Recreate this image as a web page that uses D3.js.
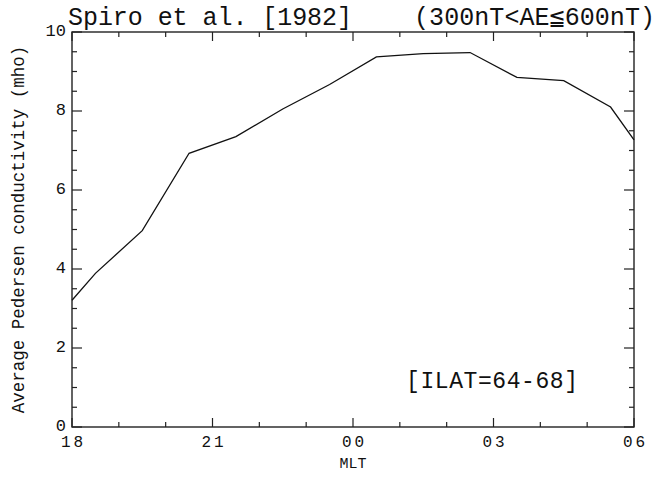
<!DOCTYPE html>
<html>
<head>
<meta charset="utf-8">
<script src="https://cdn.jsdelivr.net/npm/d3@7"></script>
<style>
  body { margin: 0; background: #fff; }
  text { font-family: "Liberation Mono", "DejaVu Sans Mono", monospace; fill: #111; }
</style>
</head>
<body>
<svg id="canvas" width="660" height="477"></svg>
<script>
// MLT in hours, 24+ means past midnight
let mlt = [18.0, 18.5, 19.5, 20.5, 21.5, 22.5, 23.5, 24.5, 25.5, 26.5, 27.5, 28.5, 29.5, 30.0]
let sigmaP = [3.21, 3.89, 4.97, 6.93, 7.35, 8.05, 8.67, 9.37, 9.45, 9.48, 8.85, 8.77, 8.1, 7.27]

let xTicks = [18, 21, 24, 27, 30]
let xTickLabels = ['18', '21', '00', '03', '06']
let yTicks = [0, 2, 4, 6, 8, 10]

let svg = d3.select('#canvas')

let plotL = 72, plotR = 634, plotT = 32, plotB = 427

let x = d3.scaleLinear().domain([18, 30]).range([plotL, plotR])
let y = d3.scaleLinear().domain([0, 10]).range([plotB, plotT])

let ink = '#222'

// frame ticks, drawn inward on all four sides
let minorX = d3.range(18, 30.01, 1)
let minorY = d3.range(0, 10.01, 0.5)

let tickG = svg.append('g').attr('stroke', ink).attr('stroke-width', 1.2)

minorX.forEach(h => {
    let len = (h % 3 === 0) ? 9 : 5
    tickG.append('line').attr('x1', x(h)).attr('x2', x(h)).attr('y1', plotB).attr('y2', plotB - len)
    tickG.append('line').attr('x1', x(h)).attr('x2', x(h)).attr('y1', plotT).attr('y2', plotT + len)
})
minorY.forEach(v => {
    let len = (v % 2 === 0) ? 10 : 5
    tickG.append('line').attr('y1', y(v)).attr('y2', y(v)).attr('x1', plotL).attr('x2', plotL + len)
    tickG.append('line').attr('y1', y(v)).attr('y2', y(v)).attr('x1', plotR).attr('x2', plotR - len)
})

svg.append('rect')
    .attr('x', plotL).attr('y', plotT)
    .attr('width', plotR - plotL).attr('height', plotB - plotT)
    .attr('fill', 'none').attr('stroke', ink).attr('stroke-width', 1.4)

// tick labels
svg.selectAll('.xlab')
    .data(xTicks)
    .enter()
    .append('text')
    .attr('class', 'xlab')
    .attr('x', d => x(d))
    .attr('y', plotB + 20)
    .attr('text-anchor', 'middle')
    .attr('font-size', 16)
    .attr('textLength', 22)
    .attr('lengthAdjust', 'spacing')
    .text((d, i) => xTickLabels[i])

svg.selectAll('.ylab')
    .data(yTicks)
    .enter()
    .append('text')
    .attr('class', 'ylab')
    .attr('x', plotL - 6)
    .attr('y', d => y(d) + 4)
    .attr('text-anchor', 'end')
    .attr('font-size', 17)
    .text(d => d)

// the curve
let line = d3.line()
    .x((d, i) => x(mlt[i]))
    .y(d => y(d))

svg.append('path')
    .datum(sigmaP)
    .attr('d', line)
    .attr('fill', 'none')
    .attr('stroke', '#111')
    .attr('stroke-width', 1.3)

// titles
svg.append('text')
    .attr('x', 68).attr('y', 25)
    .attr('font-size', 25)
    .attr('textLength', 284)
    .attr('lengthAdjust', 'spacing')
    .text('Spiro et al. [1982]')

svg.append('text')
    .attr('x', 414).attr('y', 25)
    .attr('font-size', 25)
    .attr('textLength', 241)
    .attr('lengthAdjust', 'spacing')
    .text('(300nT<AE\u2266600nT)')

svg.append('text')
    .attr('x', (plotL + plotR) / 2).attr('y', 468)
    .attr('text-anchor', 'middle')
    .attr('font-size', 15)
    .text('MLT')

svg.append('text')
    .attr('transform', 'translate(24,' + ((plotT + plotB) / 2) + ') rotate(-90)')
    .attr('text-anchor', 'middle')
    .attr('font-size', 17.5)
    .text('Average Pedersen conductivity (mho)')

svg.append('text')
    .attr('x', 406).attr('y', 388)
    .attr('font-size', 23)
    .attr('textLength', 172)
    .attr('lengthAdjust', 'spacing')
    .text('[ILAT=64-68]')
</script>
</body>
</html>
